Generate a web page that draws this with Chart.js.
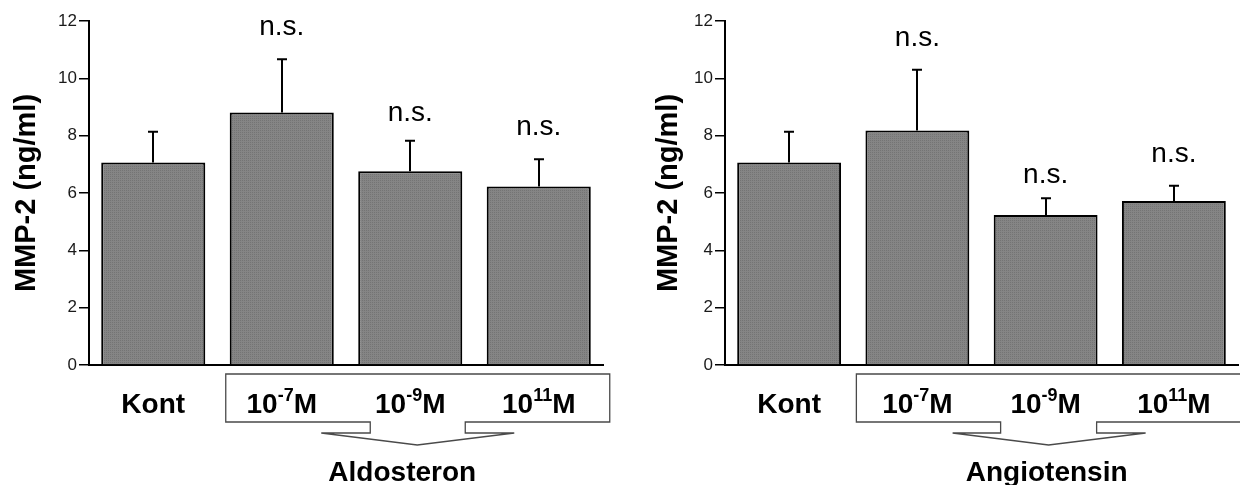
<!DOCTYPE html>
<html>
<head>
<meta charset="utf-8">
<script src="https://cdn.jsdelivr.net/npm/chart.js@4.4.1/dist/chart.umd.min.js"></script>
<style>
  body { margin: 0; background: #fff; }
  .panel { position: absolute; top: 0; width: 620px; height: 485px; }
</style>
</head>
<body>
<div class="panel" style="left:0"><canvas id="aldo" width="620" height="485"></canvas></div>
<div class="panel" style="left:620px"><canvas id="angio" width="620" height="485"></canvas></div>
<script>
// groups on the x axis: base text, superscript, unit
const labelBase = ['Kont', '10', '10', '10'];
const labelSup  = ['', '-7', '-9', '11'];
const labelUnit = ['', 'M', 'M', 'M'];
const categories = labelBase.map((b, i) => b + labelSup[i] + labelUnit[i]);

// MMP-2 (ng/ml), mean and upper error
const aldoMeans  = [7.06, 8.81, 6.76, 6.23];
const aldoErr    = [1.08, 1.86, 1.06, 0.95];
const angioMeans = [7.06, 8.18, 5.23, 5.72];
const angioErr   = [1.08, 2.12, 0.59, 0.53];

const sigLabels = ['', 'n.s.', 'n.s.', 'n.s.'];
const yTicks = [0, 2, 4, 6, 8, 10, 12];

const FONT = "'Liberation Sans', Arial, Helvetica, sans-serif";

// fine dotted grey used for the bars
function barPattern() {
  const c = document.createElement('canvas');
  c.width = 2; c.height = 2;
  const g = c.getContext('2d');
  g.fillStyle = '#858585'; g.fillRect(0, 0, 2, 2);
  g.fillStyle = '#747474'; g.fillRect(0, 0, 1, 1);
  return g.createPattern(c, 'repeat');
}

// draws "10" + raised "-7" + "M", centred on cx
function drawSupLabel(ctx, base, sup, unit, cx, baseline) {
  const big = 'bold 28px ' + FONT, small = 'bold 18px ' + FONT;
  ctx.font = big;
  const wb = ctx.measureText(base).width, wu = ctx.measureText(unit).width;
  ctx.font = small;
  const ws = ctx.measureText(sup).width;
  let x = cx - (wb + ws + wu) / 2;
  ctx.textAlign = 'left';
  ctx.font = big;   ctx.fillText(base, x, baseline); x += wb;
  ctx.font = small; ctx.fillText(sup, x, baseline - 12); x += ws;
  ctx.font = big;   ctx.fillText(unit, x, baseline);
}

const figurePlugin = {
  id: 'figure',
  afterDatasetsDraw(chart, args, opts) {
    const ctx = chart.ctx;
    const xs = chart.scales.x, ys = chart.scales.y;
    const values = chart.data.datasets[0].data;
    const meta = chart.getDatasetMeta(0);
    const bottom = chart.chartArea.bottom;
    ctx.save();

    // error bars (upper half only) and significance marks
    ctx.strokeStyle = '#000';
    ctx.fillStyle = '#000';
    ctx.lineWidth = 2;
    meta.data.forEach((bar, i) => {
      const top = ys.getPixelForValue(values[i] + opts.err[i]);
      const cx = Math.round(bar.x);
      ctx.beginPath();
      ctx.moveTo(cx, bar.y);
      ctx.lineTo(cx, top - 1);
      ctx.moveTo(cx - 5, top);
      ctx.lineTo(cx + 5, top);
      ctx.stroke();
      if (sigLabels[i]) {
        ctx.font = '28px ' + FONT;
        ctx.textAlign = 'center';
        ctx.textBaseline = 'alphabetic';
        ctx.fillText(sigLabels[i], bar.x, top - opts.sigGap[i]);
      }
    });

    // callout box around the treated groups
    const b = opts.box;
    const p1 = xs.getPixelForValue(1), p2 = xs.getPixelForValue(2), p3 = xs.getPixelForValue(3);
    const left = p1 + b.left, right = p3 + b.right;
    const top = bottom + 9, bot = bottom + 57, ny = bottom + 68;
    ctx.beginPath();
    ctx.moveTo(p2 + b.notchL, bot);
    ctx.lineTo(left, bot);
    ctx.lineTo(left, top);
    ctx.lineTo(right, top);
    ctx.lineTo(right, bot);
    ctx.lineTo(p2 + b.notchR, bot);
    ctx.lineTo(p2 + b.notchR, ny);
    ctx.lineTo(p2 + b.wingR, ny);
    ctx.lineTo(p2 + b.tip, bottom + 80);
    ctx.lineTo(p2 + b.wingL, ny);
    ctx.lineTo(p2 + b.notchL, ny);
    ctx.closePath();
    ctx.fillStyle = '#fff';
    ctx.fill();
    ctx.strokeStyle = '#4a4a4a';
    ctx.lineWidth = 1.3;
    ctx.stroke();

    // category labels
    ctx.fillStyle = '#000';
    ctx.textBaseline = 'alphabetic';
    labelBase.forEach((base, i) => {
      drawSupLabel(ctx, base, labelSup[i], labelUnit[i], xs.getPixelForValue(i), bottom + 48);
    });

    // group name under the arrow
    ctx.font = 'bold 28px ' + FONT;
    ctx.textAlign = 'center';
    ctx.fillText(opts.group, p2 + b.groupX, bottom + 116);
    ctx.restore();
  }
};

function makeChart(id, means, err, opts) {
  return new Chart(document.getElementById(id), {
    type: 'bar',
    data: {
      labels: categories,
      datasets: [{
        data: means,
        backgroundColor: barPattern(),
        borderColor: '#000',
        borderWidth: 2,
        categoryPercentage: 1,
        barPercentage: 0.81
      }]
    },
    options: {
      responsive: false,
      animation: false,
      devicePixelRatio: 1,
      layout: { padding: { top: 21, right: opts.padRight, bottom: 0, left: 0 } },
      plugins: {
        legend: { display: false },
        tooltip: { enabled: false },
        figure: { err: err, sigGap: opts.sigGap, box: opts.box, group: opts.group }
      },
      scales: {
        x: {
          z: 1,
          grid: { display: false },
          border: { display: true, color: '#000', width: 2 },
          ticks: { display: false },
          afterFit: s => { s.height = 120; }
        },
        y: {
          min: 0,
          max: 12,
          afterBuildTicks: s => { s.ticks = yTicks.map(v => ({ value: v })); },
          grid: { drawOnChartArea: false, drawTicks: true, tickLength: 10, color: '#000', lineWidth: 1.5 },
          border: { display: true, color: '#000', width: 2 },
          ticks: { padding: 2, color: '#1a1a1a', font: { family: FONT, size: 17 } },
          title: {
            display: true,
            text: 'MMP-2 (ng/ml)',
            color: '#000',
            font: { family: FONT, size: 29, weight: 'bold' },
            padding: { top: opts.titlePad, bottom: 0 }
          },
          afterFit: s => { s.width = opts.axisWidth; }
        }
      }
    },
    plugins: [figurePlugin]
  });
}

makeChart('aldo', aldoMeans, aldoErr, {
  padRight: 17, axisWidth: 89, titlePad: 10,
  sigGap: [0, 24, 20, 24],
  box: { left: -56, right: 71, notchL: -40, notchR: 55, wingL: -89, wingR: 104, tip: 7, groupX: -8 },
  group: 'Aldosteron'
});

makeChart('angio', angioMeans, angioErr, {
  padRight: 2, axisWidth: 105, titlePad: 32,
  sigGap: [0, 24, 15, 24],
  box: { left: -61, right: 80, notchL: -45, notchR: 51, wingL: -93, wingR: 100, tip: 3, groupX: 1 },
  group: 'Angiotensin'
});
</script>
</body>
</html>
